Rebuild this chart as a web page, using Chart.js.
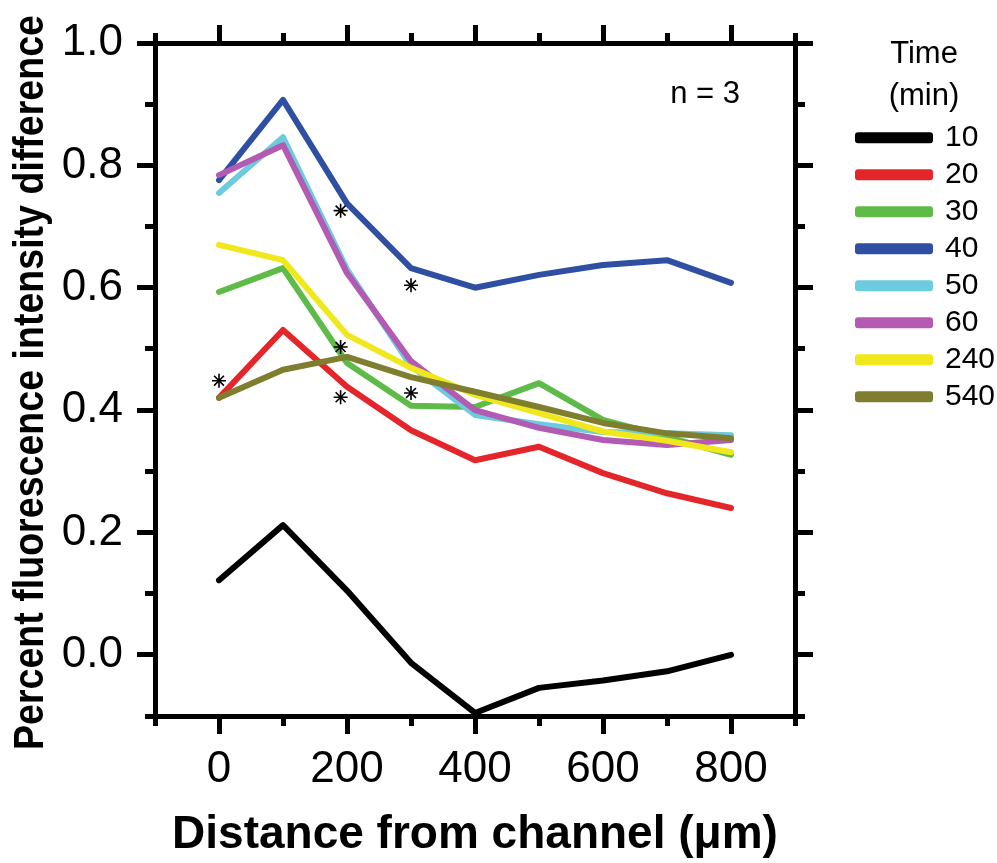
<!DOCTYPE html>
<html>
<head>
<meta charset="utf-8">
<title>Percent fluorescence intensity difference vs distance from channel</title>
<script src="https://cdn.jsdelivr.net/npm/chart.js@4.4.1/dist/chart.umd.min.js"></script>
<style>
  html, body { margin: 0; padding: 0; background: #fff; }
  #wrap { width: 997px; height: 863px; }
</style>
</head>
<body>
<div id="wrap"><canvas id="chart" width="997" height="863"></canvas></div>
<script>
// Distance from channel (µm) - shared x positions for every series
const distances = [0, 100, 200, 300, 400, 500, 600, 700, 800];

// Time points (min), one line each
const timeLabels = ["10", "20", "30", "40", "50", "60", "240", "540"];

// Values
const t10  = [0.122, 0.212, 0.105, -0.013, -0.095, -0.054, -0.042, -0.027, 0.000];
const t20  = [0.420, 0.531, 0.438, 0.367, 0.318, 0.340, 0.297, 0.264, 0.240];
const t30  = [0.593, 0.632, 0.477, 0.407, 0.405, 0.444, 0.384, 0.356, 0.327];
const t40  = [0.776, 0.907, 0.738, 0.632, 0.600, 0.621, 0.637, 0.645, 0.608];
const t50  = [0.755, 0.846, 0.630, 0.472, 0.392, 0.377, 0.364, 0.362, 0.359];
const t60  = [0.784, 0.833, 0.624, 0.480, 0.400, 0.371, 0.351, 0.343, 0.351];
const t240 = [0.670, 0.645, 0.523, 0.469, 0.425, 0.395, 0.365, 0.350, 0.331];
const t540 = [0.420, 0.466, 0.487, 0.454, 0.430, 0.405, 0.379, 0.362, 0.354];
const seriesValues = [t10, t20, t30, t40, t50, t60, t240, t540];

const seriesColors = ["#000000", "#e4262b", "#5fbb47", "#2f4fa3", "#6ccbdc", "#b35ab3", "#f0e81c", "#7e7e2e"];
const seriesWidths = [6, 6, 6, 6, 6, 6, 6, 6];

// Significance markers (*)
const starX = [0, 190, 190, 190, 300, 300];
const starY = [0.448, 0.726, 0.503, 0.421, 0.604, 0.428];

// Tick positions
const xMajorTicks = [0, 200, 400, 600, 800];
const xMinorTicks = [-100, 100, 300, 500, 700, 900];
const yMajorTicks = [0.0, 0.2, 0.4, 0.6, 0.8, 1.0];
const yMinorTicks = [-0.1, 0.1, 0.3, 0.5, 0.7, 0.9];

const xTitle = "Distance from channel (μm)";
const yTitle = "Percent fluorescence intensity difference";
const noteText = "n = 3";

const FONT = "'Liberation Sans', Arial, Helvetica, sans-serif";
Chart.defaults.font.family = FONT;
Chart.defaults.color = "#000";

// One frame side: major axis carries the long ticks (and labels), minor one the short ticks
function frameAxis(position, major, boxSize, extra) {
  const isX = position === "top" || position === "bottom";
  const list = isX ? (major ? xMajorTicks : xMinorTicks) : (major ? yMajorTicks : yMinorTicks);
  return Object.assign({
    type: "linear",
    axis: isX ? "x" : "y",
    position: position,
    min: isX ? -100 : -0.1,
    max: isX ? 900 : 1.0,
    weight: major ? 1 : 0,
    grid: { drawOnChartArea: false, drawTicks: true, tickLength: major ? 18 : 10, tickWidth: 5, tickColor: "#000" },
    border: { display: major, width: 5, color: "#000" },
    ticks: { display: false },
    afterBuildTicks: a => { a.ticks = list.map(v => ({ value: v })); },
    afterFit: a => { if (isX) a.height = boxSize; else a.width = boxSize; }
  }, extra || {});
}

const datasets = timeLabels.map((lbl, i) => ({
  label: lbl,
  data: distances.map((d, j) => ({ x: d, y: seriesValues[i][j] })),
  borderColor: seriesColors[i],
  backgroundColor: seriesColors[i],
  borderWidth: seriesWidths[i],
  borderCapStyle: "round",
  borderJoinStyle: "round",
  pointRadius: 0,
  tension: 0,
  order: timeLabels.length - i
}));

datasets.push({
  label: "*",
  data: starX.map((x, i) => ({ x: x, y: starY[i] })),
  showLine: false,
  pointStyle: "star",
  pointRadius: 7,
  pointBorderWidth: 1.6,
  pointBorderColor: "#000",
  pointBackgroundColor: "#000",
  borderColor: "#000",
  backgroundColor: "#000",
  order: 0
});

// y title and the n = 3 note
const textPlugin = {
  id: "extraText",
  afterDraw(chart) {
    const ctx = chart.ctx;
    const area = chart.chartArea;
    ctx.save();
    ctx.fillStyle = "#000";
    ctx.translate(43, (area.top + area.bottom) / 2 + 3);
    ctx.rotate(-Math.PI / 2);
    ctx.font = "bold 43px " + FONT;
    ctx.textAlign = "center";
    ctx.textBaseline = "alphabetic";
    ctx.fillText(yTitle, 0, 0, 735);
    ctx.restore();

    ctx.save();
    ctx.fillStyle = "#000";
    ctx.font = "31px " + FONT;
    ctx.textAlign = "right";
    ctx.textBaseline = "alphabetic";
    ctx.fillText(noteText, area.right - 55, area.top + 60);
    ctx.restore();
  }
};

new Chart(document.getElementById("chart"), {
  type: "line",
  data: { datasets: datasets },
  options: {
    responsive: false,
    animation: false,
    layout: { padding: 0 },
    plugins: {
      tooltip: { enabled: false },
      legend: {
        position: "right",
        align: "start",
        maxWidth: 146,
        labels: {
          boxWidth: 72,
          boxHeight: 5,
          padding: 7,
          color: "#000",
          font: { family: FONT, size: 30 },
          filter: item => item.datasetIndex < timeLabels.length,
          sort: (a, b) => a.datasetIndex - b.datasetIndex
        },
        title: {
          display: true,
          text: ["Time", "(min)"],
          color: "#000",
          font: { family: FONT, size: 31, lineHeight: 1.35 },
          padding: { top: 39, bottom: 35 }
        }
      }
    },
    scales: {
      x: frameAxis("bottom", true, 147, {
        ticks: {
          display: true, color: "#000", padding: 9, maxRotation: 0, autoSkip: false,
          font: { family: FONT, size: 44 },
          callback: v => String(v)
        },
        title: {
          display: true, text: xTitle, color: "#000",
          font: { family: FONT, size: 46, weight: "bold", lineHeight: 1.2 },
          padding: { top: 0, bottom: 0 }
        }
      }),
      xm: frameAxis("bottom", false, 0),
      x2: frameAxis("top", true, 43),
      x2m: frameAxis("top", false, 0),
      y: frameAxis("left", true, 155, {
        ticks: {
          display: true, color: "#000", padding: 14, autoSkip: false,
          font: { family: FONT, size: 44 },
          callback: v => Number(v).toFixed(1)
        }
      }),
      ym: frameAxis("left", false, 0),
      y2: frameAxis("right", true, 56),
      y2m: frameAxis("right", false, 0)
    }
  },
  plugins: [textPlugin]
});
</script>
</body>
</html>
